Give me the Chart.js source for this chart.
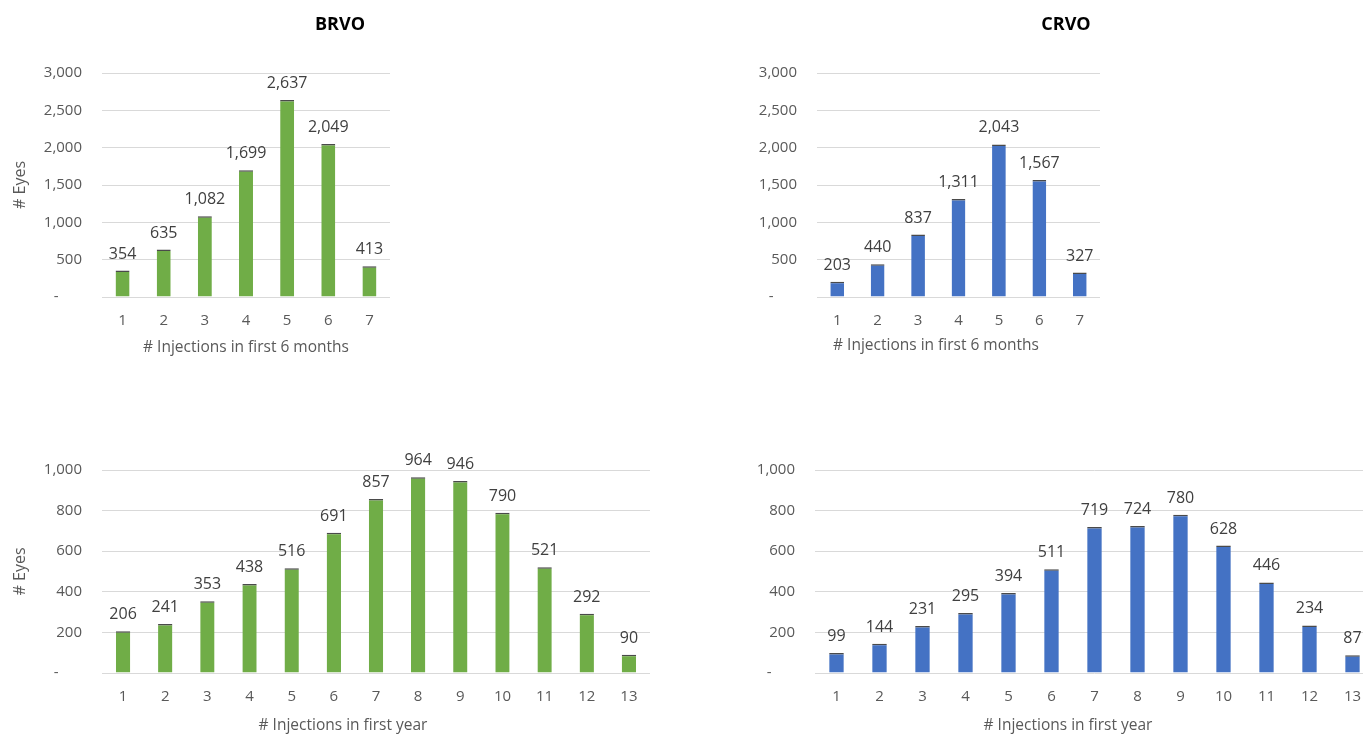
<!DOCTYPE html>
<html>
<head>
<meta charset="utf-8">
<title>Injections per eye - BRVO / CRVO</title>
<script src="https://cdn.jsdelivr.net/npm/chart.js@4.4.1/dist/chart.umd.min.js"></script>
<style>
    html, body {
        margin: 0;
        padding: 0;
        background: #ffffff;
        overflow: hidden;
    }
    .page {
        position: relative;
        width: 1363px;
        height: 735px;
        overflow: hidden;
    }
    .page canvas {
        position: absolute;
    }
</style>
</head>
<body>
<div class="page">
    <canvas id="brvo-6m" width="410" height="370" style="left:0px;top:0px"></canvas>
    <canvas id="crvo-6m" width="420" height="370" style="left:700px;top:0px"></canvas>
    <canvas id="brvo-1y" width="680" height="295" style="left:0px;top:440px"></canvas>
    <canvas id="crvo-1y" width="700" height="295" style="left:700px;top:440px"></canvas>
</div>
<script>
// # injections (x categories)
const injections6m = ['1', '2', '3', '4', '5', '6', '7'];
const injections1y = ['1', '2', '3', '4', '5', '6', '7', '8', '9', '10', '11', '12', '13'];

// # eyes
const brvo6m = [354, 635, 1082, 1699, 2637, 2049, 413];
const crvo6m = [203, 440, 837, 1311, 2043, 1567, 327];
const brvo1y = [206, 241, 353, 438, 516, 691, 857, 964, 946, 790, 521, 292, 90];
const crvo1y = [99, 144, 231, 295, 394, 511, 719, 724, 780, 628, 446, 234, 87];

// y axis ticks
const ticks6m = [0, 500, 1000, 1500, 2000, 2500, 3000];
const ticks1y = [0, 200, 400, 600, 800, 1000];

const GREEN = '#70ad47';
const BLUE = '#4472c4';
const FONT = '"Open Sans", "Liberation Sans", sans-serif';

Chart.defaults.font.family = FONT;
Chart.defaults.font.size = 15;
Chart.defaults.color = '#595959';

function fmt(v) {
    // excel accounting style: zero shows as a dash
    if (v === 0) return '-      ';
    return v.toLocaleString('en-US');
}

// value labels above bars + chart title + x axis caption
const captionPlugin = {
    id: 'captions',
    afterDatasetsDraw(chart, args, opts) {
        const ctx = chart.ctx;
        const meta = chart.getDatasetMeta(0);
        const values = chart.data.datasets[0].data;

        ctx.save();
        ctx.font = '16px ' + FONT;
        ctx.fillStyle = '#404040';
        ctx.textAlign = 'center';
        ctx.textBaseline = 'alphabetic';
        meta.data.forEach((bar, i) => {
            ctx.fillText(values[i].toLocaleString('en-US'), bar.x, bar.y - 12);
        });

        ctx.textBaseline = 'middle';
        if (opts.title) {
            ctx.font = 'bold 18px ' + FONT;
            ctx.fillStyle = '#000000';
            ctx.fillText(opts.title, opts.titleX, opts.titleY);
        }
        if (opts.xTitle) {
            ctx.font = '15.5px ' + FONT;
            ctx.fillStyle = '#595959';
            ctx.fillText(opts.xTitle, opts.xTitleX, opts.xTitleY);
        }
        ctx.restore();
    }
};

function makeChart(id, cfg) {
    const ctx = document.getElementById(id).getContext('2d');
    const canvas = ctx.canvas;

    return new Chart(ctx, {
        type: 'bar',
        data: {
            labels: cfg.labels,
            datasets: [{
                label: '# Eyes',
                data: cfg.values,
                backgroundColor: cfg.color,
                borderColor: '#4a4a4a',
                borderWidth: { top: 1.5, right: 0, bottom: 0, left: 0 },
                borderSkipped: 'start',
                categoryPercentage: 1,
                barPercentage: 0.34
            }]
        },
        options: {
            responsive: false,
            animation: false,
            devicePixelRatio: 1,
            layout: {
                padding: { top: cfg.areaTop, right: cfg.padRight, bottom: 0, left: 0 }
            },
            scales: {
                x: {
                    grid: { display: false, drawTicks: false },
                    border: { display: false },
                    ticks: { color: '#595959', padding: 15, maxRotation: 0, autoSkip: false },
                    afterFit(scale) {
                        scale.height = canvas.height - cfg.areaBottom;
                    }
                },
                y: {
                    min: 0,
                    max: cfg.max,
                    afterBuildTicks(scale) {
                        scale.ticks = cfg.ticks.map(v => ({ value: v }));
                    },
                    grid: { color: '#d9d9d9', lineWidth: 1, drawTicks: false },
                    border: { display: false },
                    ticks: {
                        color: '#595959',
                        padding: 20,
                        callback: (v) => fmt(v)
                    },
                    title: {
                        display: !!cfg.yTitle,
                        text: cfg.yTitle || '',
                        color: '#595959',
                        font: { size: 16 },
                        padding: { top: 11, bottom: 0 }
                    },
                    afterFit(scale) {
                        scale.width = cfg.areaLeft;
                    }
                }
            },
            plugins: {
                legend: { display: false },
                tooltip: { enabled: false },
                captions: {
                    title: cfg.title,
                    titleX: cfg.titleX,
                    titleY: cfg.titleY,
                    xTitle: cfg.xTitle,
                    xTitleX: cfg.xTitleX,
                    xTitleY: cfg.xTitleY
                }
            }
        },
        plugins: [captionPlugin]
    });
}

document.addEventListener('DOMContentLoaded', function () {
    makeChart('brvo-6m', {
        labels: injections6m, values: brvo6m, color: GREEN,
        max: 3000, ticks: ticks6m,
        areaLeft: 102, areaTop: 73, areaBottom: 297, padRight: 20,
        yTitle: '# Eyes',
        title: 'BRVO', titleX: 340, titleY: 25,
        xTitle: '# Injections in first 6 months', xTitleX: 246, xTitleY: 348
    });

    makeChart('crvo-6m', {
        labels: injections6m, values: crvo6m, color: BLUE,
        max: 3000, ticks: ticks6m,
        areaLeft: 117, areaTop: 73, areaBottom: 297, padRight: 20,
        title: 'CRVO', titleX: 366, titleY: 25,
        xTitle: '# Injections in first 6 months', xTitleX: 236, xTitleY: 346
    });

    makeChart('brvo-1y', {
        labels: injections1y, values: brvo1y, color: GREEN,
        max: 1000, ticks: ticks1y,
        areaLeft: 102, areaTop: 30, areaBottom: 233, padRight: 30,
        yTitle: '# Eyes',
        xTitle: '# Injections in first year', xTitleX: 343, xTitleY: 286
    });

    makeChart('crvo-1y', {
        labels: injections1y, values: crvo1y, color: BLUE,
        max: 1000, ticks: ticks1y,
        areaLeft: 115, areaTop: 30, areaBottom: 233, padRight: 26,
        xTitle: '# Injections in first year', xTitleX: 368, xTitleY: 286
    });
});
</script>
</body>
</html>
